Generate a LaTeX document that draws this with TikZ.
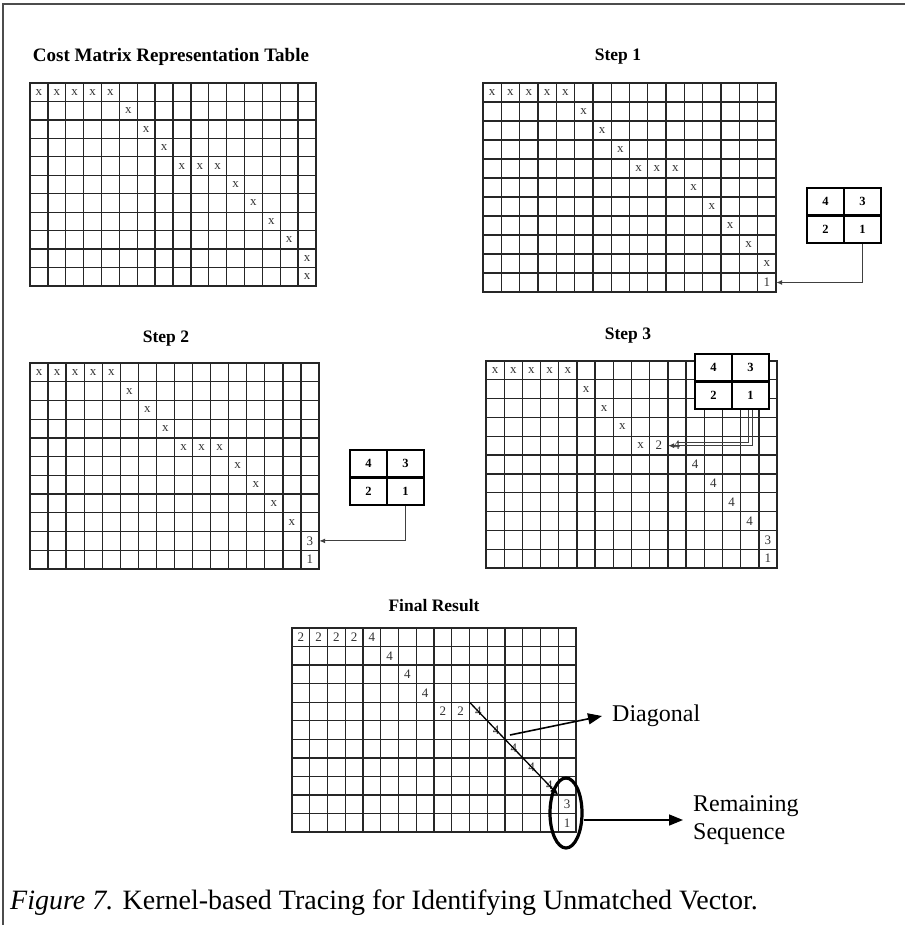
\documentclass[tikz,border=0pt]{standalone}
\usepackage{fontspec}
\setmainfont{Liberation Serif}
\usetikzlibrary{arrows.meta,shapes.geometric}
\tikzset{
 gridline/.style={line width=1.35pt, draw=black!85, line cap=rect},
 cellnode/.style={inner sep=0pt, font=\fontsize{13}{13}\selectfont, text=black!80},
 kcell/.style={draw, line width=2.2pt, fill=white, minimum width=37pt, minimum height=27.5pt, inner sep=0pt, font=\fontsize{12.5}{13}\selectfont\bfseries},
 ttl/.style={font=\fontsize{17.5}{18}\selectfont\bfseries, inner sep=0pt},
 conn/.style={line width=1.1pt, draw=black!75, -{Latex[length=6pt,width=5pt]}},
 plainconn/.style={line width=1.1pt, draw=black!75},
 bigarrow/.style={line width=1.6pt, -{Triangle[length=14pt,width=11pt]}},
 lbl/.style={font=\fontsize{24}{28}\selectfont, inner ysep=0pt, inner xsep=10pt, align=left},
}
\newcommand{\mkgrid}[4]{%
 \pgfmathsetmacro\gx{#1}\pgfmathsetmacro\gy{#2}%
 \pgfmathsetmacro\gcw{(#3-#1)/16}\pgfmathsetmacro\gch{(#4-#2)/11}%
 \foreach \i in {0,...,16}{\draw[gridline] ({\gx+\i*\gcw},\gy) -- ({\gx+\i*\gcw},#4);}%
 \foreach \j in {0,...,11}{\draw[gridline] (\gx,{\gy+\j*\gch}) -- (#3,{\gy+\j*\gch});}%
}
\newcommand{\cellsin}[2]{%
 \foreach \ro/\co/\te in {#2}{%
  \node[cellnode, minimum width=\gcw pt, minimum height=\gch pt] (#1-\ro-\co) at ({\gx+(\co+0.5)*\gcw},{\gy+(\ro+0.5)*\gch}) {\te};}%
}
\newcommand{\kernelbox}[3]{%
 \node[kcell] (#1-4) at ({#2+18.5},{#3+13.75}) {4};
 \node[kcell] (#1-3) at ({#2+55.5},{#3+13.75}) {3};
 \node[kcell] (#1-2) at ({#2+18.5},{#3+41.25}) {2};
 \node[kcell] (#1-1) at ({#2+55.5},{#3+41.25}) {1};
}
\begin{document}
\begin{tikzpicture}[x=1pt,y=-1pt]
\useasboundingbox (0,0) rectangle (905,925);
\fill[white] (0,0) rectangle (905,925);
\draw[line width=1.5pt, black!70] (3,925) -- (3,4) -- (905,4);

% titles
\node[ttl, font=\fontsize{19}{20}\selectfont\bfseries] (t1) at (171,57) {Cost Matrix Representation Table};
\node[ttl] (t2) at (618,57) {Step 1};
\node[ttl] (t3) at (166,339) {Step 2};
\node[ttl] (t4) at (628,336) {Step 3};
\node[ttl] (t5) at (434,606) {Final Result};

% grid 1
\mkgrid{30}{83}{316}{286}
\cellsin{g1}{0/0/x,0/1/x,0/2/x,0/3/x,0/4/x,1/5/x,2/6/x,3/7/x,4/8/x,4/9/x,4/10/x,5/11/x,6/12/x,7/13/x,8/14/x,9/15/x,10/15/x}

% grid 2 (Step 1)
\mkgrid{483}{83}{776}{292}
\cellsin{g2}{0/0/x,0/1/x,0/2/x,0/3/x,0/4/x,1/5/x,2/6/x,3/7/x,4/8/x,4/9/x,4/10/x,5/11/x,6/12/x,7/13/x,8/14/x,9/15/x,10/15/1}
\kernelbox{k1}{807}{188}
\draw[conn] (k1-1.south) |- (g2-10-15.east);

% grid 3 (Step 2)
\mkgrid{30}{363}{319}{569}
\cellsin{g3}{0/0/x,0/1/x,0/2/x,0/3/x,0/4/x,1/5/x,2/6/x,3/7/x,4/8/x,4/9/x,4/10/x,5/11/x,6/12/x,7/13/x,8/14/x,9/15/3,10/15/1}
\kernelbox{k2}{350}{450}
\draw[conn] (k2-1.south) |- (g3-9-15.east);

% grid 4 (Step 3)
\mkgrid{486}{361}{777}{568}
\cellsin{g4}{0/0/x,0/1/x,0/2/x,0/3/x,0/4/x,1/5/x,2/6/x,3/7/x,4/8/x,4/9/2,4/10/4,5/11/4,6/12/4,7/13/4,8/14/4,9/15/3,10/15/1}
\kernelbox{k3}{695}{354}
\draw[conn] ([xshift=2pt]k3-1.south) |- (g4-4-9.east);
\draw[plainconn] ([xshift=-2pt]k3-1.south) |- ([yshift=3pt]g4-4-10.center);

% grid 5 (Final)
\mkgrid{292}{628}{576}{832}
\cellsin{g5}{0/0/2,0/1/2,0/2/2,0/3/2,0/4/4,1/5/4,2/6/4,3/7/4,4/8/2,4/9/2,4/10/4,5/11/4,6/12/4,7/13/4,8/14/4,9/15/3,10/15/1}
\draw[line width=1.3pt, -{Triangle[length=8pt,width=6pt]}] (g5-4-10.north west) -- (g5-9-15.north west);

\node[draw, ellipse, line width=3.2pt, minimum width=32pt, minimum height=70pt, inner sep=0pt] (rem) at (566,813) {};

\coordinate (dstart) at (510,735);
\node[lbl, anchor=west] (diag) at (602,716) {Diagonal};
\draw[bigarrow] (dstart) -- (diag.west);

\node[lbl, anchor=west] (remlbl) at (683,820) {Remaining\\Sequence};
\draw[bigarrow] ([yshift=-7pt]rem.east) -- (remlbl.west);

\node[anchor=west, inner sep=0pt, font=\fontsize{28}{28}\selectfont] (cap) at (10,903) {\textit{Figure 7.} Kernel-based Tracing for Identifying Unmatched Vector.};
\end{tikzpicture}
\end{document}
